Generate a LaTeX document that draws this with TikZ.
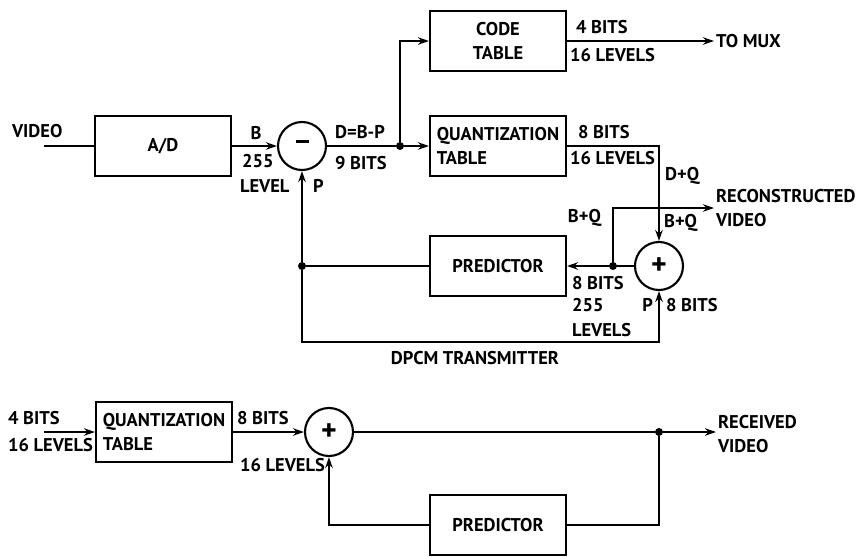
\documentclass[tikz,border=0pt]{standalone}
\usepackage{fontspec}
\setmainfont{PT Sans}
\usetikzlibrary{arrows.meta, positioning, calc}
\tikzset{
  >={Stealth[length=2.2mm, width=1.5mm]},
  wire/.style={line width=1.2pt},
  flow/.style={wire, ->},
  blk/.style={rectangle, draw, line width=1.2pt, minimum width=27.2mm, minimum height=12mm,
              inner sep=2pt, font=\fontsize{10.5}{13.5}\selectfont\bfseries},
  sumnode/.style={circle, draw, line width=1.2pt, minimum size=9.6mm, inner sep=0pt,
                  font=\fontsize{17}{17}\selectfont\bfseries},
  dot/.style={circle, fill, inner sep=0pt, minimum size=1.6mm},
  lbl/.style={font=\fontsize{10.5}{13.5}\selectfont\bfseries, inner sep=1pt},
}
\begin{document}
\begin{tikzpicture}[x=0.2mm, y=-0.2mm]
  \useasboundingbox (0,0) rectangle (861,556);

  % transmitter
  \node[blk] (ad) at (163,146) {A/D};
  \node[sumnode] (minus) at (302,146) {\rule[0.6ex]{2.6mm}{1.4pt}};
  \node[blk, align=center] (code) at (498,41) {CODE\\TABLE};
  \node[blk, align=left] (qtx) at (498,146) {QUANTIZATION\\TABLE};
  \node[blk] (predtx) at (498,266) {PREDICTOR};
  \node[sumnode] (plustx) at (659,266) {+};
  \node[dot] (jd) at (400,146) {};
  \node[dot] (jb) at (613,266) {};
  \node[dot] (jp) at (302,266) {};
  \coordinate (vin) at (44,146);
  \coordinate (lp) at (302,342);
  \node[lbl, anchor=west] (vidin) at (10,131) {VIDEO};
  \node[lbl, anchor=west] (mux) at (714,41) {TO MUX};
  \node[lbl, anchor=west, align=left] (recon) at (714,208) {RECONSTRUCTED\\VIDEO};

  \draw[wire] (vin) -- (ad);
  \draw[flow] (ad) -- (minus);
  \draw[wire] (minus) -- (jd);
  \draw[flow] (jd) |- (code.west);
  \draw[flow] (jd) -- (qtx.west);
  \draw[flow] (code.east) -- (code.east -| mux.west);
  \draw[flow] (qtx.east) -| (plustx.north);
  \draw[flow] (jb) |- (recon.west);
  \draw[wire] (plustx) -- (jb);
  \draw[flow] (jb) -- (predtx);
  \draw[wire] (predtx) -- (jp);
  \draw[flow] (jp) -- (minus);
  \draw[flow] (jp) -- (lp) -| (plustx.south);

  \node[lbl] at (256,133) {B};
  \node[lbl, anchor=west] at (240,161) {255};
  \node[lbl, anchor=west] at (238,186) {LEVEL};
  \node[lbl, anchor=west] at (311,186) {P};
  \node[lbl, anchor=west] at (333,132) {D=B-P};
  \node[lbl, anchor=west] at (333,163) {9 BITS};
  \node[lbl, anchor=west] at (574,27) {4 BITS};
  \node[lbl, anchor=west] at (568,55) {16 LEVELS};
  \node[lbl, anchor=west] at (576,132) {8 BITS};
  \node[lbl, anchor=west] at (568,158) {16 LEVELS};
  \node[lbl, anchor=west] at (663,176) {D+Q};
  \node[lbl, anchor=east] at (603,218) {B+Q};
  \node[lbl, anchor=west] at (662,223) {B+Q};
  \node[lbl, anchor=west] at (570,283) {8 BITS};
  \node[lbl, anchor=west] at (570,305) {255};
  \node[lbl, anchor=west] at (570,330) {LEVELS};
  \node[lbl, anchor=east] at (655,305) {P};
  \node[lbl, anchor=west] at (664,305) {8 BITS};
  \node[lbl] at (475,358) {DPCM TRANSMITTER};

  % receiver
  \node[blk, align=left] (qrx) at (164,432) {QUANTIZATION\\TABLE};
  \node[sumnode] (plusrx) at (329,432) {+};
  \node[dot] (jr) at (659,432) {};
  \node[blk] (predrx) at (498,525) {PREDICTOR};
  \coordinate (cin) at (44,432);
  \node[lbl, anchor=west, align=left] (rxout) at (716,434) {RECEIVED\\VIDEO};

  \draw[flow] (cin) -- (qrx.west);
  \draw[flow] (qrx) -- (plusrx);
  \draw[wire] (plusrx) -- (jr);
  \draw[flow] (jr) -- (jr -| rxout.west);
  \draw[wire] (jr) |- (predrx.east);
  \draw[flow] (predrx.west) -| (plusrx.south);

  \node[lbl, anchor=west] at (6,418) {4 BITS};
  \node[lbl, anchor=west] at (6,445) {16 LEVELS};
  \node[lbl, anchor=west] at (235,418) {8 BITS};
  \node[lbl, anchor=west] at (238,465) {16 LEVELS};
\end{tikzpicture}
\end{document}
